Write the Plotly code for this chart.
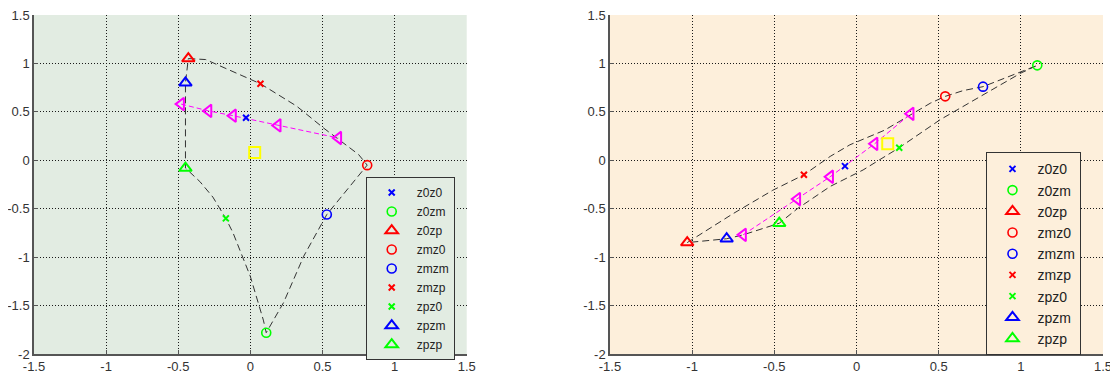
import plotly.graph_objects as go

# ---------------- data ----------------
legend_names = ["z0z0", "z0zm", "z0zp", "zmz0", "zmzm", "zmzp", "zpz0", "zpzm", "zpzp"]
legend_symbols = ["x-thin", "circle-open", "triangle-up-open", "circle-open", "circle-open",
                  "x-thin", "x-thin", "triangle-up-open", "triangle-up-open"]
legend_colors = ["#0000ff", "#00ff00", "#ff0000", "#ff0000", "#0000ff",
                 "#ff0000", "#00ff00", "#0000ff", "#00ff00"]

# left panel: labelled points
left_x = [-0.03, 0.11, -0.43, 0.81, 0.53, 0.07, -0.17, -0.45, -0.45]
left_y = [0.44, -1.78, 1.05, -0.05, -0.56, 0.79, -0.60, 0.80, -0.08]
# left panel: dashed loop
left_loop_x = [-0.43, -0.31, 0.07, 0.16, 0.32, 0.51, 0.75, 0.81, 0.53, 0.37, 0.23, 0.11,
               0.09, 0.00, -0.12, -0.17, -0.26, -0.35, -0.42, -0.45, -0.45, -0.43]
left_loop_y = [1.05, 1.04, 0.79, 0.71, 0.56, 0.33, 0.06, -0.05, -0.56, -0.99, -1.47, -1.78,
               -1.65, -1.20, -0.75, -0.60, -0.38, -0.22, -0.12, -0.08, 0.80, 1.05]
# left panel: magenta path
left_mag_x = [-0.48, -0.29, -0.12, 0.19, 0.61]
left_mag_y = [0.58, 0.51, 0.46, 0.36, 0.23]
# left panel: yellow square
left_sq_x = [0.03]
left_sq_y = [0.08]

# right panel: labelled points
right_x = [-0.07, 1.10, -1.03, 0.54, 0.77, -0.32, 0.26, -0.79, -0.47]
right_y = [-0.06, 0.98, -0.85, 0.66, 0.76, -0.15, 0.13, -0.81, -0.65]
# right panel: dashed loop
right_loop_x = [-1.03, -0.75, -0.51, -0.32, -0.16, -0.04, 0.17, 0.45, 0.54, 0.65, 0.77, 0.92, 1.10,
                1.00, 0.71, 0.51, 0.26, 0.04, -0.16, -0.36, -0.47, -0.69, -0.79, -1.03]
right_loop_y = [-0.85, -0.55, -0.31, -0.15, 0.04, 0.16, 0.31, 0.59, 0.66, 0.72, 0.76, 0.86, 0.98,
                0.90, 0.62, 0.42, 0.13, -0.10, -0.27, -0.50, -0.65, -0.77, -0.81, -0.85]
# right panel: magenta path
right_mag_x = [-0.69, -0.36, -0.16, 0.11, 0.33]
right_mag_y = [-0.77, -0.40, -0.17, 0.17, 0.48]
# right panel: yellow square
right_sq_x = [0.19]
right_sq_y = [0.17]

tick_x_vals = [-1.5, -1, -0.5, 0, 0.5, 1, 1.5]
tick_x_text = ["-1.5", "-1", "-0.5", "0", "0.5", "1", "1.5"]
tick_y_vals = [-2, -1.5, -1, -0.5, 0, 0.5, 1, 1.5]
tick_y_text = ["-2", "-1.5", "-1", "-0.5", "0", "0.5", "1", "1.5"]

LEFT_BG = "#e2ece2"
RIGHT_BG = "#fdefdb"
FONT = "Liberation Sans, Arial, sans-serif"

fig = go.Figure()


def marker_style(sym, col):
    if sym.startswith("x"):
        return dict(symbol=sym, size=6, color=col, line=dict(color=col, width=2))
    if sym.startswith("circle"):
        return dict(symbol=sym, size=9, color=col, line=dict(color=col, width=1.6))
    return dict(symbol=sym, size=11, color=col, line=dict(color=col, width=2))


def add_panel(xa, ya, loop_x, loop_y, mag_x, mag_y, sq_x, sq_y, px, py, legend_id):
    fig.add_trace(go.Scatter(x=loop_x, y=loop_y, mode="lines", xaxis=xa, yaxis=ya,
                             line=dict(color="#333333", width=1, dash="7px,4px"),
                             showlegend=False, hoverinfo="skip"))
    fig.add_trace(go.Scatter(x=mag_x, y=mag_y, mode="lines+markers", xaxis=xa, yaxis=ya,
                             line=dict(color="#ff00ff", width=1, dash="5px,3px"),
                             marker=dict(symbol="triangle-left-open", size=11, color="#ff00ff",
                                         line=dict(color="#ff00ff", width=2)),
                             showlegend=False))
    fig.add_trace(go.Scatter(x=sq_x, y=sq_y, mode="markers", xaxis=xa, yaxis=ya,
                             marker=dict(symbol="square-open", size=11, color="#ffff00",
                                         line=dict(color="#ffff00", width=2)),
                             showlegend=False))
    for i, name in enumerate(legend_names):
        fig.add_trace(go.Scatter(x=[px[i]], y=[py[i]], mode="markers", name=name,
                                 xaxis=xa, yaxis=ya, legend=legend_id,
                                 legendgroup=legend_id + name,
                                 marker=marker_style(legend_symbols[i], legend_colors[i])))


add_panel("x", "y", left_loop_x, left_loop_y, left_mag_x, left_mag_y,
          left_sq_x, left_sq_y, left_x, left_y, "legend")
add_panel("x2", "y2", right_loop_x, right_loop_y, right_mag_x, right_mag_y,
          right_sq_x, right_sq_y, right_x, right_y, "legend2")

axis_common = dict(showgrid=True, gridcolor="#1a1a1a", griddash="1px,2px", gridwidth=1,
                   zeroline=False, showline=True, linecolor="#555555", linewidth=1.5,
                   ticks="inside", ticklen=4, tickcolor="#555555", automargin=False,
                   ticklabeloverflow="allow",
                   tickfont=dict(family=FONT, size=13, color="#333333"))

# page body has an 8px margin, so the figure is sized to fill the rest of the window
fig.update_layout(
    width=1110, height=368,
    margin=dict(l=26, r=15, t=7, b=22, autoexpand=False),
    paper_bgcolor="white", plot_bgcolor="rgba(0,0,0,0)",
    font=dict(family=FONT, size=12, color="#222222"),
    xaxis=dict(domain=[0, 0.4048], range=[-1.5, 1.5], tickvals=tick_x_vals, ticktext=tick_x_text,
               anchor="y", **axis_common),
    yaxis=dict(domain=[0, 1], range=[-2, 1.5], tickvals=tick_y_vals, ticktext=tick_y_text,
               anchor="x", **axis_common),
    xaxis2=dict(domain=[0.5388, 1], range=[-1.5, 1.5], tickvals=tick_x_vals, ticktext=tick_x_text,
                anchor="y2", **axis_common),
    yaxis2=dict(domain=[0, 1], range=[-2, 1.5], tickvals=tick_y_vals, ticktext=tick_y_text,
                anchor="x2", **axis_common),
    legend=dict(x=0.3103, y=0.522, xanchor="left", yanchor="top", bgcolor=LEFT_BG,
                bordercolor="#333333", borderwidth=1, font=dict(family=FONT, size=12, color="#222222"),
                tracegroupgap=0, itemwidth=40),
    legend2=dict(x=0.891, y=0.595, xanchor="left", yanchor="top", bgcolor=RIGHT_BG,
                 bordercolor="#333333", borderwidth=1, font=dict(family=FONT, size=14, color="#222222"),
                 tracegroupgap=0, itemwidth=40),
    shapes=[
        dict(type="rect", xref="x domain", yref="y domain", x0=0, x1=1, y0=0, y1=1,
             fillcolor=LEFT_BG, line=dict(width=0), layer="below"),
        dict(type="rect", xref="x2 domain", yref="y2 domain", x0=0, x1=1, y0=0, y1=1,
             fillcolor=RIGHT_BG, line=dict(width=0), layer="below"),
    ],
    showlegend=True,
)

fig.write_html("out.html")
